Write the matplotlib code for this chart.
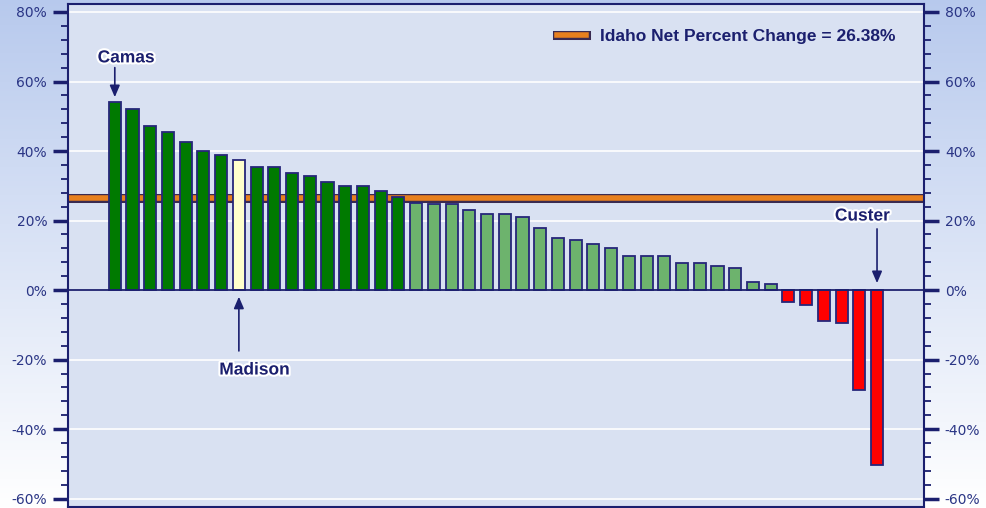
import numpy as np
import matplotlib
matplotlib.use("Agg")
import matplotlib.pyplot as plt
import matplotlib.patheffects as pe
from matplotlib.lines import Line2D
from matplotlib.ticker import MultipleLocator, FuncFormatter

# percent change by county, sorted high to low (44 Idaho counties)
pct_change = [54.1, 52.0, 47.3, 45.6, 42.6, 40.1, 38.8, 37.5, 35.3, 35.3,
              33.6, 32.8, 31.1, 29.8, 29.8, 28.6, 26.9, 25.1, 24.7, 24.7,
              23.0, 21.9, 21.9, 20.9, 17.8, 15.0, 14.5, 13.3, 12.0, 9.8,
              9.8, 9.8, 7.8, 7.8, 6.9, 6.4, 2.3, 1.7, -3.4, -4.3,
              -8.9, -9.4, -28.6, -50.2]
idaho_net = 26.38
highlight = {"Camas": 0, "Madison": 7, "Custer": 43}

navy = "#1b1f6e"
orange = "#e8801e"

fig = plt.figure(figsize=(9.86, 5.08), dpi=100)

# gradient background, blue at top fading to white
bg = fig.add_axes([0, 0, 1, 1], zorder=-10)
grad = np.linspace(0, 1, 256).reshape(-1, 1)
top = np.array([0.72, 0.79, 0.93])
bottom = np.array([1.0, 1.0, 1.0])
img = top + (bottom - top) * grad[:, :, None]
bg.imshow(img, aspect="auto", extent=[0, 1, 0, 1], origin="upper")
bg.axis("off")

ax = fig.add_axes([68 / 986, 1 / 508, (924 - 68) / 986, 503 / 508])
ax.set_facecolor("#d9e1f2")

x = np.arange(len(pct_change))
colors = []
for i, v in enumerate(pct_change):
    if i == highlight["Madison"]:
        colors.append("#ffffcc")
    elif v > idaho_net:
        colors.append("#007a00")
    elif v >= 0:
        colors.append("#6db36d")
    else:
        colors.append("#ff0000")

ax.bar(x, pct_change, width=0.68, color=colors, edgecolor="#26267a",
       linewidth=1.3, zorder=3)

ax.axhline(0, color=navy, lw=1.3, zorder=4)
ax.axhline(idaho_net, color=orange, lw=4, zorder=2,
           path_effects=[pe.Stroke(linewidth=6.5, foreground="#3a2a50"), pe.Normal()])

ax.set_xlim(-2.64, len(pct_change) - 1 + 2.65)
ax.set_ylim(-62.4, 82.3)
ax.set_xticks([])
ax.yaxis.set_major_locator(MultipleLocator(20))
ax.yaxis.set_minor_locator(MultipleLocator(4))
ax.yaxis.set_major_formatter(FuncFormatter(lambda v, p: f"{v:.0f}%"))
ax.grid(axis="y", which="major", color="white", lw=1.2, zorder=0)
ax.set_axisbelow(True)
ax.tick_params(axis="y", which="both", left=True, right=True,
               labelleft=True, labelright=True, colors=navy,
               labelcolor="#2a3585", labelsize=10, pad=4)
ax.tick_params(axis="y", which="major", length=11, width=2.5)
ax.tick_params(axis="y", which="minor", length=5, width=1.3)
for s in ax.spines.values():
    s.set_color(navy)
    s.set_linewidth(1.5)

glow = [pe.withStroke(linewidth=3, foreground="white")]
label_kw = dict(color=navy, fontsize=12.5, fontweight="bold",
                family="Liberation Sans", ha="center", va="center",
                path_effects=glow, zorder=6)
arrow_kw = dict(arrowstyle="-|>,head_length=0.7,head_width=0.3",
                color=navy, lw=1.2, shrinkA=0, shrinkB=0)

ax.text(0.64, 66.8, "Camas", **label_kw)
ax.annotate("", xy=(highlight["Camas"], 55.5), xytext=(highlight["Camas"], 64),
            arrowprops=arrow_kw, zorder=6)
ax.text(7.88, -23.0, "Madison", **label_kw)
ax.annotate("", xy=(highlight["Madison"], -1.9), xytext=(highlight["Madison"], -17.5),
            arrowprops=arrow_kw, zorder=6)
ax.text(42.18, 21.3, "Custer", **label_kw)
ax.annotate("", xy=(highlight["Custer"], 2.0), xytext=(highlight["Custer"], 17.6),
            arrowprops=arrow_kw, zorder=6)

handle = Line2D([0], [0], color=orange, lw=4,
                path_effects=[pe.Stroke(linewidth=6.5, foreground="#3a2a50"), pe.Normal()])
leg = ax.legend([handle], [f"Idaho Net Percent Change = {idaho_net:.2f}%"],
                loc="upper right", frameon=False, handlelength=1.7,
                prop={"family": "Liberation Sans", "weight": "bold", "size": 12.5},
                bbox_to_anchor=(0.985, 0.982))
for t in leg.get_texts():
    t.set_color(navy)

fig.savefig("out.png", dpi=100)
